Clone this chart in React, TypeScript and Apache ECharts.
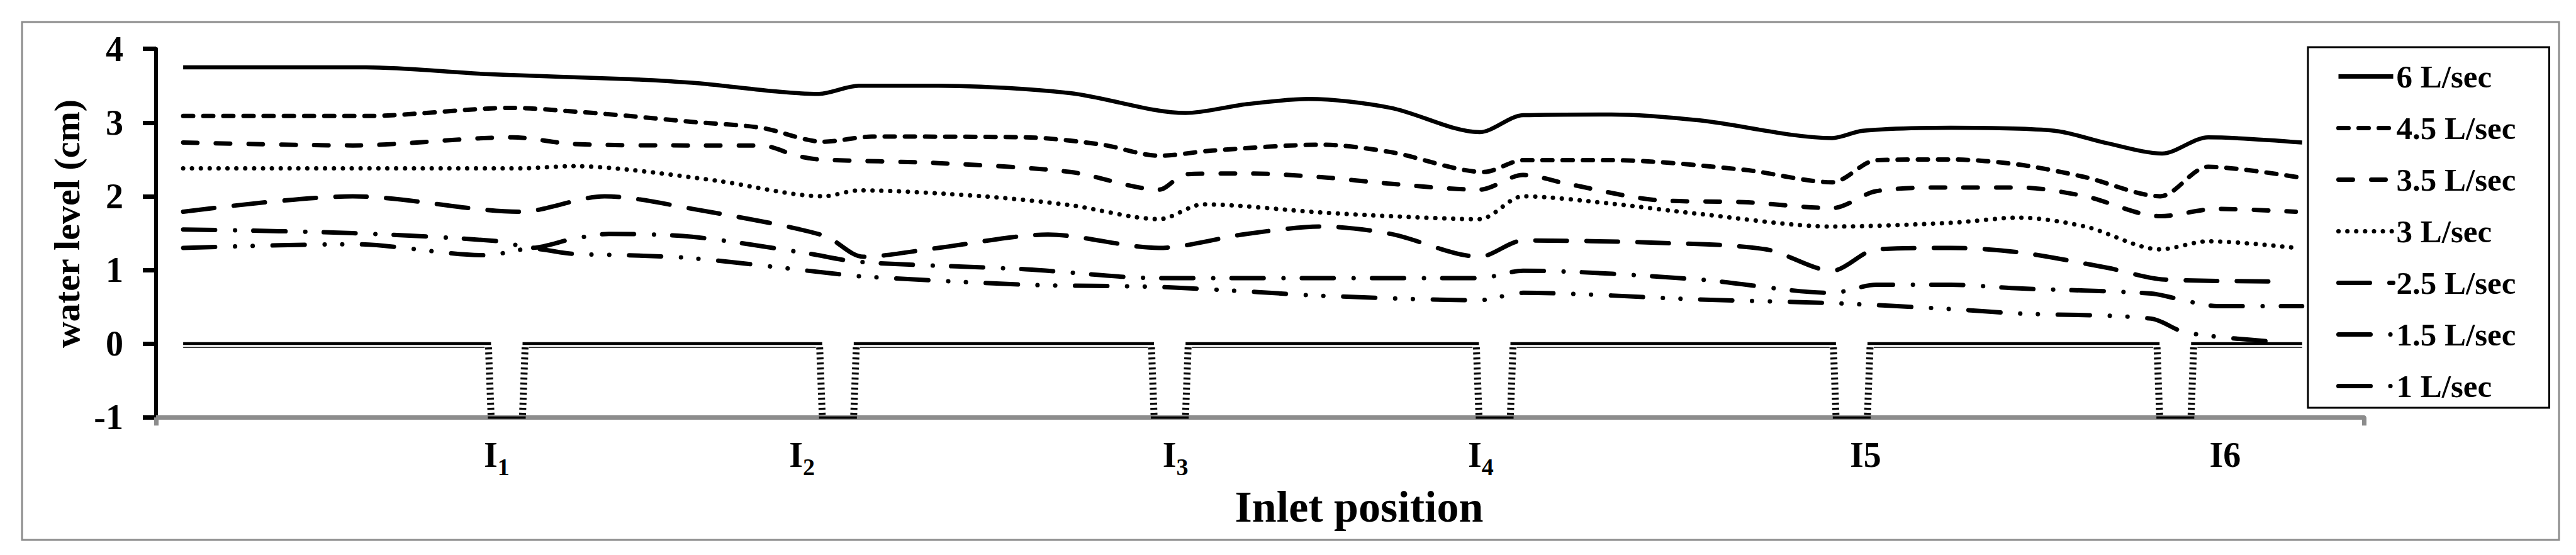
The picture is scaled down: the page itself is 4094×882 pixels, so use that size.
import React, { useEffect, useRef } from 'react';
import * as echarts from 'echarts';

const SERIF = "'Liberation Serif', 'Times New Roman', serif";

// ---- data -----------------------------------------------------------------
const SERIES_NAMES = ['6 L/sec', '4.5 L/sec', '3.5 L/sec', '3 L/sec', '2.5 L/sec', '1.5 L/sec', '1 L/sec'];

// [position along channel, water level (cm)]
const FLOW_6 = [[4.3, 3.75], [33.3, 3.75], [53.0, 3.655], [75.0, 3.59], [85.0, 3.54], [105.1, 3.39], [111.4, 3.5], [124.0, 3.5], [144.9, 3.4], [163.2, 3.13], [172.9, 3.25], [182.7, 3.32], [195.7, 3.2], [209.8, 2.87], [216.7, 3.1], [230.7, 3.11], [244.7, 3.03], [265.7, 2.79], [270.6, 2.89], [284.5, 2.93], [300.9, 2.89], [309.3, 2.72], [318.0, 2.58], [325.3, 2.8], [340.2, 2.73]];
const FLOW_45 = [[4.3, 3.09], [33.3, 3.09], [56.5, 3.2], [66.2, 3.15], [75.0, 3.09], [85.0, 3.01], [95.9, 2.93], [105.8, 2.74], [113.5, 2.81], [137.9, 2.8], [150.0, 2.7], [159.0, 2.55], [167.4, 2.62], [184.7, 2.7], [195.7, 2.6], [210.5, 2.33], [216.7, 2.49], [230.7, 2.49], [251.7, 2.36], [265.7, 2.19], [272.7, 2.49], [284.5, 2.5], [295.3, 2.43], [305.8, 2.26], [317.7, 2.0], [325.3, 2.4], [340.2, 2.25]];
const FLOW_35 = [[4.3, 2.73], [31.2, 2.69], [56.5, 2.8], [66.2, 2.71], [85.0, 2.69], [95.9, 2.69], [101.6, 2.55], [105.1, 2.5], [124.0, 2.45], [144.9, 2.33], [159.0, 2.09], [163.2, 2.3], [172.9, 2.31], [184.7, 2.26], [195.7, 2.17], [209.8, 2.09], [216.7, 2.29], [223.7, 2.17], [237.7, 1.95], [251.7, 1.92], [265.7, 1.84], [272.7, 2.07], [284.5, 2.12], [295.3, 2.12], [305.8, 2.0], [317.7, 1.73], [326.7, 1.83], [339.2, 1.79]];
const FLOW_3 = [[4.3, 2.38], [57.8, 2.38], [66.2, 2.41], [75.0, 2.36], [89.0, 2.21], [105.8, 2.0], [111.4, 2.08], [131.0, 2.0], [144.9, 1.88], [159.0, 1.69], [166.0, 1.89], [184.7, 1.78], [195.7, 1.73], [209.8, 1.69], [216.7, 2.0], [230.7, 1.9], [244.7, 1.76], [265.7, 1.59], [284.5, 1.64], [295.3, 1.71], [305.8, 1.59], [317.7, 1.28], [325.3, 1.39], [339.2, 1.3]];
const FLOW_25 = [[4.3, 1.79], [31.2, 2.0], [57.8, 1.79], [71.1, 2.0], [85.0, 1.83], [105.8, 1.47], [112.1, 1.18], [124.0, 1.3], [141.4, 1.48], [159.0, 1.3], [172.9, 1.49], [184.7, 1.59], [195.7, 1.49], [209.8, 1.18], [216.7, 1.4], [237.7, 1.37], [255.2, 1.28], [265.7, 0.99], [272.7, 1.28], [284.5, 1.3], [295.3, 1.24], [309.3, 1.03], [318.4, 0.87], [337.1, 0.845]];
const FLOW_15 = [[4.3, 1.55], [31.2, 1.5], [54.4, 1.39], [59.5, 1.3], [66.0, 1.42], [71.8, 1.49], [85.0, 1.45], [103.0, 1.23], [111.4, 1.11], [137.9, 1.01], [159.0, 0.89], [184.7, 0.89], [209.8, 0.89], [216.7, 0.99], [244.7, 0.87], [265.7, 0.69], [272.7, 0.8], [284.5, 0.8], [295.3, 0.75], [316.3, 0.68], [321.8, 0.58], [326.7, 0.51], [340.2, 0.51]];
const FLOW_1 = [[4.3, 1.3], [31.2, 1.35], [52.3, 1.2], [59.5, 1.29], [66.0, 1.22], [75.0, 1.2], [85.0, 1.16], [106.5, 0.96], [111.4, 0.915], [137.9, 0.8], [159.0, 0.77], [174.7, 0.7], [184.7, 0.65], [209.8, 0.59], [216.7, 0.69], [244.7, 0.6], [265.7, 0.55], [284.5, 0.47], [295.3, 0.41], [316.3, 0.34], [321.8, 0.15], [337.1, 0.02]];

const FLOWS = [FLOW_6, FLOW_45, FLOW_35, FLOW_3, FLOW_25, FLOW_15, FLOW_1];

// y axis
const Y_MIN = -1;
const Y_MAX = 4;
const Y_INTERVAL = 1;

// x axis (position along the channel)
const X_MIN = 0;
const X_MAX = 350;
const X_END_TICKS = [0, 350];

// inlet labels
const INLET_LABEL_POS = [54.0, 102.4, 161.6, 210.0, 271.0, 328.0];
const INLET_MAIN = ['I', 'I', 'I', 'I', 'I5', 'I6'];
const INLET_SUB = ['1', '2', '3', '4', '', ''];

// channel profile
const SLOT_CENTERS = [55.6, 108.1, 160.7, 212.2, 268.8, 320.1];
const CHANNEL_START = 4.3;
const CHANNEL_END = 340.2;
const BED_LEVEL = 0.005;
const LINER_LEVEL = -0.05;
const SLOT_FLOOR = -1;
const WALL_BOTTOM = -0.965;

// ---- styles ----------------------------------------------------------------
const DASHES: (string | number[])[] = [
  'solid',
  [16, 16],
  [23, 29],
  [0.1, 14],
  [50, 31],
  [51, 31.5, 0.1, 29],
  [51, 31.5, 0.1, 28, 0.1, 31.5],
];

function splitAroundSlots(half: number, level: number) {
  const segs: number[][][] = [];
  let x0 = CHANNEL_START;
  SLOT_CENTERS.forEach((c) => {
    segs.push([[x0, level], [c - half, level]]);
    x0 = c + half;
  });
  segs.push([[x0, level], [CHANNEL_END, level]]);
  return segs;
}

export default function App() {
  const ref = useRef<HTMLDivElement>(null);

  useEffect(() => {
    if (!ref.current) return;
    const chart = echarts.init(ref.current, null, { renderer: 'svg' });

    const bedSegs = splitAroundSlots(2.5, BED_LEVEL);
    const linerSegs = splitAroundSlots(3.5, LINER_LEVEL);
    const wallSegs: number[][][] = [];
    SLOT_CENTERS.forEach((c) => {
      wallSegs.push([[c - 2.9, LINER_LEVEL], [c - 2.5, WALL_BOTTOM]]);
      wallSegs.push([[c + 2.9, LINER_LEVEL], [c + 2.5, WALL_BOTTOM]]);
    });
    const floorSegs = SLOT_CENTERS.map((c) => [[c - 3.0, SLOT_FLOOR], [c + 3.0, SLOT_FLOOR]]);

    const flowSeries = SERIES_NAMES.map((name, i) => ({
      type: 'line',
      name,
      data: FLOWS[i],
      smooth: 0.3,
      symbol: 'none',
      silent: true,
      z: 3,
      itemStyle: { color: '#000' },
      lineStyle: {
        color: '#000',
        width: i === 0 ? 6.5 : 7,
        type: DASHES[i],
        cap: i === 0 ? 'butt' : 'round',
        join: 'round',
      },
    }));

    const segSeries = (segs: number[][][], width: number, type: any, cap: string) => ({
      type: 'lines',
      coordinateSystem: 'cartesian2d',
      silent: true,
      z: 2,
      data: segs.map((s) => ({ coords: s })),
      lineStyle: { color: '#000', width, opacity: 1, type, cap, curveness: 0 },
    });

    const option: any = {
      animation: false,
      backgroundColor: '#fff',
      textStyle: { fontFamily: SERIF, color: '#000' },
      grid: { left: 248, right: 337, top: 77.7, bottom: 218.7, containLabel: false },
      graphic: [
        {
          type: 'rect',
          silent: true,
          shape: { x: 35, y: 35, width: 4032, height: 823 },
          style: { fill: 'none', stroke: '#8c8c8c', lineWidth: 3 },
        },
      ],
      legend: {
        data: SERIES_NAMES,
        orient: 'vertical',
        left: 3668,
        top: 75,
        padding: [21, 43, 9, 45],
        itemWidth: 87,
        itemHeight: 20,
        itemGap: 31,
        borderColor: '#000',
        borderWidth: 3,
        selectedMode: false,
        itemStyle: { color: 'rgba(0,0,0,0)', borderWidth: 0, opacity: 0 },
        lineStyle: { width: 7, color: '#000' },
        textStyle: {
          fontFamily: SERIF,
          fontSize: 51,
          fontWeight: 'bold',
          color: '#000',
          lineHeight: 50,
          width: 200,
        },
      },
      xAxis: {
        type: 'value',
        min: X_MIN,
        max: X_MAX,
        splitLine: { show: false },
        axisLine: { show: true, onZero: false, lineStyle: { color: '#8c8c8c', width: 7 } },
        axisTick: {
          show: true,
          customValues: X_END_TICKS,
          length: 13,
          lineStyle: { color: '#8c8c8c', width: 7 },
        },
        axisLabel: {
          show: true,
          customValues: INLET_LABEL_POS,
          margin: 42,
          formatter: (v: number) => {
            const i = INLET_LABEL_POS.findIndex((p) => Math.abs(p - v) < 1e-6);
            if (i < 0) return '';
            return INLET_SUB[i] ? `{m|${INLET_MAIN[i]}}{s|${INLET_SUB[i]}}` : `{m|${INLET_MAIN[i]}}`;
          },
          rich: {
            m: {
              fontFamily: SERIF,
              fontSize: 56,
              fontWeight: 'bold',
              color: '#000',
              lineHeight: 56,
              verticalAlign: 'bottom',
              padding: [0, 0, 10, 0],
            },
            s: {
              fontFamily: SERIF,
              fontSize: 38,
              fontWeight: 'bold',
              color: '#000',
              lineHeight: 38,
              verticalAlign: 'bottom',
            },
          },
        },
        name: 'Inlet position',
        nameLocation: 'middle',
        nameGap: 107,
        nameTextStyle: {
          fontFamily: SERIF,
          fontSize: 70,
          fontWeight: 'bold',
          color: '#000',
          lineHeight: 70,
          padding: [0, 0, 0, 315],
        },
      },
      yAxis: {
        type: 'value',
        min: Y_MIN,
        max: Y_MAX,
        interval: Y_INTERVAL,
        splitLine: { show: false },
        axisLine: { show: true, onZero: false, lineStyle: { color: '#000', width: 6 } },
        axisTick: { show: true, length: 21, lineStyle: { color: '#000', width: 7 } },
        axisLabel: {
          margin: 52,
          fontFamily: SERIF,
          fontSize: 56,
          fontWeight: 'bold',
          color: '#000',
        },
        name: 'water level (cm)',
        nameLocation: 'middle',
        nameGap: 113,
        nameTextStyle: {
          fontFamily: SERIF,
          fontSize: 58,
          fontWeight: 'bold',
          color: '#000',
          lineHeight: 58,
          padding: [0, 0, 0, 30],
        },
      },
      series: [
        segSeries(linerSegs, 1.5, 'solid', 'butt'),
        segSeries(bedSegs, 4.3, 'solid', 'butt'),
        segSeries(wallSegs, 11, [3.3, 4.7], 'butt'),
        segSeries(floorSegs, 4.3, 'solid', 'butt'),
        ...flowSeries,
      ],
    };

    chart.setOption(option);
    return () => chart.dispose();
  }, []);

  return (
    <div
      ref={ref}
      style={{ position: 'fixed', left: 0, top: 0, width: 4094, height: 882, background: '#fff' }}
    />
  );
}
